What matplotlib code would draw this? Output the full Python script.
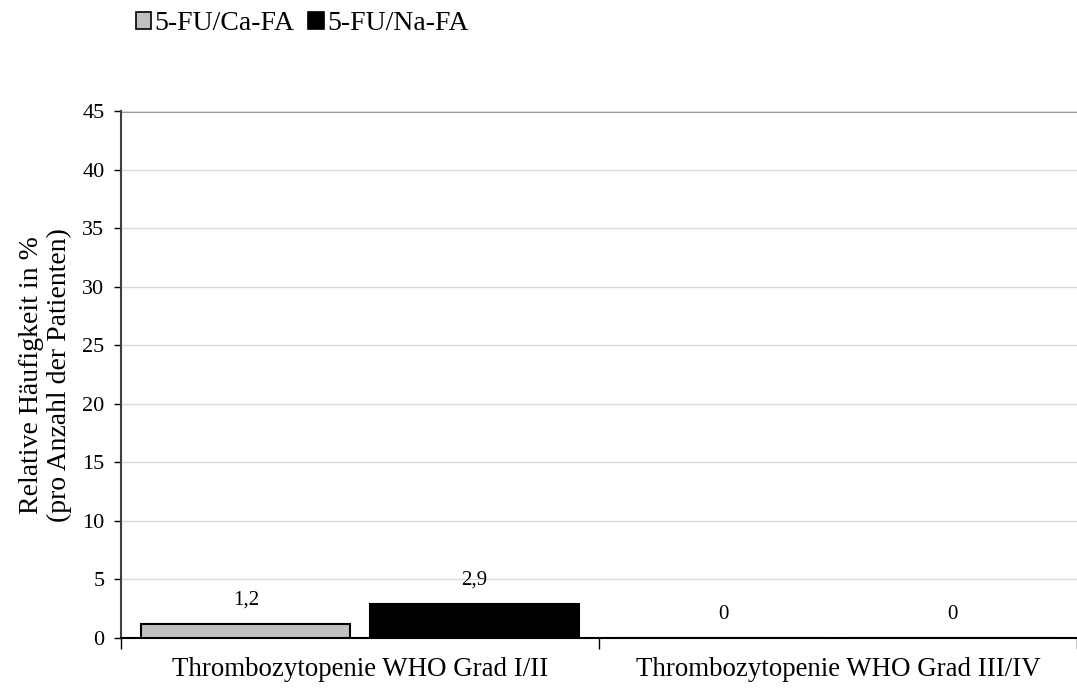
import numpy as np
import matplotlib
matplotlib.use('Agg')
import matplotlib.pyplot as plt
from matplotlib.patches import Patch

categories = ['Thrombozytopenie WHO Grad I/II', 'Thrombozytopenie WHO Grad III/IV']
series_names = ['5-FU/Ca-FA', '5-FU/Na-FA']
ca_fa = [1.2, 0.0]
na_fa = [2.9, 0.0]
value_labels = [['1,2', '0'], ['2,9', '0']]
colors = ['#c0c0c0', '#000000']

plt.rcParams['font.family'] = ['Liberation Serif', 'DejaVu Serif']

fig = plt.figure(figsize=(10.77, 6.95), dpi=100)
ax = fig.add_axes([0.1124, 0.082, 0.8876, 0.758])

x = np.arange(len(categories))
width = 0.4375
offset = 0.239
for i, (vals, col) in enumerate(zip([ca_fa, na_fa], colors)):
    pos = x + (i * 2 - 1) * offset
    ax.bar(pos, vals, width, color=col, edgecolor='black', linewidth=1.5, zorder=3)
    for p, v, lab in zip(pos, vals, value_labels[i]):
        ax.annotate(lab, (p, v), xytext=(0, 17), textcoords='offset points',
                    ha='center', va='center', fontsize=15)

ax.set_xlim(-0.5, 1.5)
ax.set_ylim(0, 45)
ax.set_yticks(np.arange(0, 46, 5))
ax.tick_params(axis='y', labelsize=16, length=5, width=1, direction='out', colors='black', pad=7)
ax.set_xticks([-0.5, 0.5, 1.5])
ax.set_xticklabels([])
ax.tick_params(axis='x', length=8, width=1)
ax.set_xticks(x, minor=True)
ax.set_xticklabels(categories, minor=True, fontsize=19.4)
ax.tick_params(axis='x', which='minor', length=0, pad=14)

ax.yaxis.grid(True, color='#d9d9d9', linewidth=1, zorder=0)
ax.axhline(45, color='#808080', linewidth=2, zorder=1)
ax.spines['right'].set_visible(False)
ax.spines['top'].set_visible(False)
ax.spines['left'].set_color('#404040')
ax.spines['left'].set_linewidth(1.5)
ax.spines['bottom'].set_linewidth(1.5)

ax.set_ylabel('Relative Häufigkeit in %\n(pro Anzahl der Patienten)', fontsize=20, linespacing=1.15)
ax.yaxis.set_label_coords(-0.051, 0.5)

handles = [Patch(facecolor=c, edgecolor='black', linewidth=1.2) for c in colors]
fig.legend(handles, series_names, loc='upper left', bbox_to_anchor=(0.108, 1.012),
           ncol=2, frameon=False, fontsize=20, handlelength=0.55, handleheight=0.55,
           handletextpad=0.12, columnspacing=0.5, borderaxespad=0.3)

fig.savefig('out.png', dpi=100)
